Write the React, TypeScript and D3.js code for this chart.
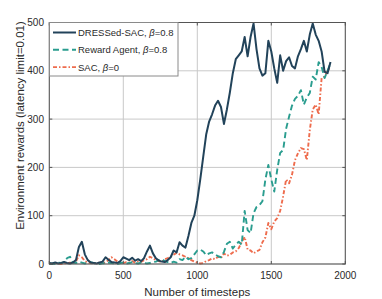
import React from "react";
import * as d3 from "d3";

const W = 382;
const H = 299;

const xTicks = [0, 500, 1000, 1500, 2000];
const yTicks = [0, 100, 200, 300, 400, 500];

const seriesNames = ["DRESSed-SAC", "Reward Agent", "SAC"];
const seriesBetas = ["0.8", "0.8", "0"];

// timesteps sampled every 20 steps, 0..1900
const timesteps = d3.range(0, 1901, 20);

const dressedSac = [
  2, 1, 3, 1, 2, 4, 2, 1, 3, 8,
  35, 46, 20, 8, 3, 2, 1, 3, 5, 14,
  9, 4, 3, 2, 6, 14, 11, 8, 13, 7,
  10, 6, 12, 26, 38, 22, 12, 7, 5, 4,
  8, 14, 28, 24, 45, 38, 34, 58, 85, 100,
  132, 175, 222, 268, 295, 310, 328, 338, 325, 290,
  320, 355, 395, 424, 432, 440, 470, 430, 470, 498,
  445, 405, 390, 395, 462, 440, 405, 375, 432, 400,
  420, 428, 410, 405, 430, 445, 462, 440, 475, 498,
  475, 462, 440, 398, 395, 418,
];

const rewardAgent = [
  0, 1, 0, 3, 2, 4, 12, 15, 3, 2,
  5, 3, 1, 2, 4, 2, 1, 0, 2, 1,
  3, 2, 1, 0, 2, 3, 1, 2, 4, 2,
  1, 3, 2, 1, 2, 4, 5, 8, 10, 6,
  4, 2, 5, 3, 10, 8, 15, 10, 12, 20,
  28, 30, 26, 18, 22, 24, 20, 16, 14, 25,
  42, 46, 32, 40, 46, 40, 110, 70, 64, 105,
  118, 122, 130, 175, 205, 175, 150, 195, 230, 236,
  280, 305, 328, 342, 348, 360, 330, 345, 354, 388,
  382, 418, 408, 385, 400, 416,
];

const sac = [
  1, 0, 2, 1, 0, 2, 1, 3, 1, 5,
  18, 14, 6, 3, 2, 1, 3, 2, 1, 4,
  8, 14, 10, 5, 3, 2, 4, 3, 6, 3,
  5, 4, 8, 10, 15, 12, 8, 6, 4, 10,
  12, 15, 19, 23, 20, 18, 15, 12, 8, 5,
  3, 1, 2, 6, 8, 12, 10, 15, 12, 22,
  17, 19, 24, 26, 33, 45, 56, 30, 28, 22,
  26, 29, 45, 55, 85, 72, 88, 95, 110, 140,
  175, 167, 185, 215, 229, 240, 238, 215, 277, 320,
  330, 310, 385, 388, 400, 408,
];

const colors = ["#22435a", "#2a9d8f", "#ee6c4d"];
const dashes = ["none", "6,3.5", "4,2,1.5,2"];
const widths = [2, 1.9, 1.9];

const left = 49.3;
const right = 345.3;
const top = 22.5;
const bottom = 264;

export default function App() {
  const x = d3.scaleLinear().domain([0, 2000]).range([left, right]);
  const y = d3.scaleLinear().domain([0, 500]).range([bottom, top]);
  const all = [dressedSac, rewardAgent, sac];
  const line = d3
    .line<number>()
    .x((_, i) => x(timesteps[i]))
    .y((d) => y(d));

  const font = "'Liberation Sans', Arial, Helvetica, sans-serif";
  const axisColor = "#555";
  const gridColor = "#c9c9c9";
  const textColor = "#2a2a2a";

  return (
    <svg
      width={W}
      height={H}
      style={{ position: "fixed", left: 0, top: 0, background: "#fff" }}
      fontFamily={font}
    >
      <rect x={0} y={0} width={W} height={H} fill="#fff" />
      {xTicks.map((t) => (
        <line key={"gx" + t} x1={x(t)} x2={x(t)} y1={top} y2={bottom} stroke={gridColor} strokeWidth={1} />
      ))}
      {yTicks.map((t) => (
        <line key={"gy" + t} x1={left} x2={right} y1={y(t)} y2={y(t)} stroke={gridColor} strokeWidth={1} />
      ))}
      {[2, 1, 0].map((k) => (
        <path
          key={"s" + k}
          d={line(all[k]) || ""}
          fill="none"
          stroke={colors[k]}
          strokeWidth={widths[k]}
          strokeDasharray={dashes[k]}
          strokeLinejoin="round"
        />
      ))}
      <rect x={left} y={top} width={right - left} height={bottom - top} fill="none" stroke={axisColor} strokeWidth={1} />
      {xTicks.map((t) => (
        <g key={"tx" + t}>
          <line x1={x(t)} x2={x(t)} y1={bottom} y2={bottom - 3} stroke={axisColor} />
          <line x1={x(t)} x2={x(t)} y1={top} y2={top + 3} stroke={axisColor} />
          <text x={x(t)} y={279} fontSize={10} textAnchor="middle" fill={textColor}>
            {t}
          </text>
        </g>
      ))}
      {yTicks.map((t) => (
        <g key={"ty" + t}>
          <line x1={left} x2={left + 3} y1={y(t)} y2={y(t)} stroke={axisColor} />
          <line x1={right} x2={right - 3} y1={y(t)} y2={y(t)} stroke={axisColor} />
          <text x={44} y={y(t) + 3.5} fontSize={10} textAnchor="end" fill={textColor}>
            {t}
          </text>
        </g>
      ))}
      <text x={(left + right) / 2} y={296} fontSize={11.5} textAnchor="middle" fill={textColor}>
        Number of timesteps
      </text>
      <text
        transform={`translate(24,125.5) rotate(-90)`}
        fontSize={11.5}
        textAnchor="middle"
        fill={textColor}
      >
        Environment rewards (latency limit=0.01)
      </text>
      <rect x={49.5} y={22.5} width={128.5} height={53.5} fill="#fff" stroke="#8a8a8a" strokeWidth={1} />
      {seriesNames.map((name, i) => {
        const ly = 32.5 + i * 17.3;
        return (
          <g key={"lg" + i}>
            <line
              x1={53}
              x2={76}
              y1={ly}
              y2={ly}
              stroke={colors[i]}
              strokeWidth={widths[i]}
              strokeDasharray={dashes[i]}
            />
            <text x={78} y={ly + 3.5} fontSize={9.5} fill={textColor}>
              {name}, <tspan fontStyle="italic">β</tspan>={seriesBetas[i]}
            </text>
          </g>
        );
      })}
    </svg>
  );
}
